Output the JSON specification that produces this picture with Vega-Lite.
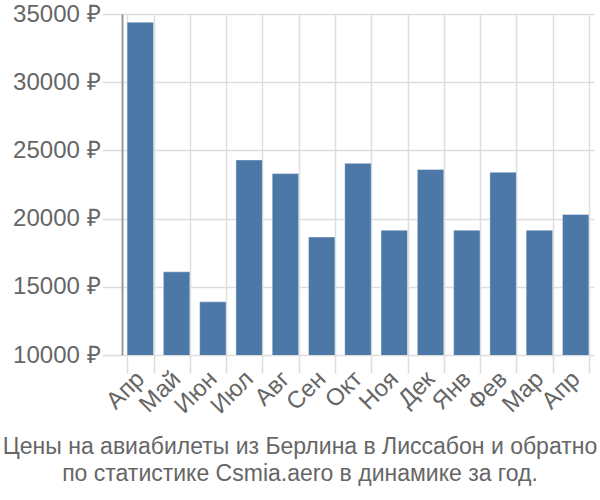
{
  "$schema": "https://vega.github.io/schema/vega-lite/v6.json",
  "width": 472,
  "height": 341,
  "autosize": "none",
  "padding": {"left": 122, "top": 14, "right": 6, "bottom": 145},
  "background": "white",
  "config": {
    "font": "Liberation Sans",
    "view": {"stroke": null}
  },
  "title": {
    "text": ["Цены на авиабилеты из Берлина в Лиссабон и обратно", "по статистике Csmia.aero в динамике за год."],
    "orient": "bottom",
    "anchor": "middle",
    "fontSize": 23,
    "fontWeight": "normal",
    "color": "#666666",
    "offset": 18,
    "lineHeight": 27,
    "dx": -58
  },
  "data": {
    "values": [
      {"key": "Апр (1)", "price": 34400},
      {"key": "Май", "price": 16100},
      {"key": "Июн", "price": 13900},
      {"key": "Июл", "price": 24300},
      {"key": "Авг", "price": 23300},
      {"key": "Сен", "price": 18650},
      {"key": "Окт", "price": 24050},
      {"key": "Ноя", "price": 19150},
      {"key": "Дек", "price": 23600},
      {"key": "Янв", "price": 19150},
      {"key": "Фев", "price": 23400},
      {"key": "Мар", "price": 19150},
      {"key": "Апр (2)", "price": 20300}
    ]
  },
  "mark": {"type": "bar", "clip": true, "color": "#4c78a8", "stroke": "#ffffff", "strokeOpacity": 0.4, "strokeWidth": 1},
  "encoding": {
    "x": {
      "field": "key",
      "type": "nominal",
      "sort": null,
      "scale": {"paddingInner": 0.27, "paddingOuter": 0.14},
      "axis": {
        "title": null,
        "labelAngle": -45,
        "labelAlign": "right",
        "labelBaseline": "middle",
        "labelFontSize": 24,
        "labelColor": "#666666",
        "labelExpr": "substring(datum.label, 0, 3)",
        "tickBand": "extent",
        "grid": true,
        "gridColor": "#dddddd",
        "gridWidth": 1.5,
        "tickColor": "#dddddd",
        "tickWidth": 1.5,
        "tickSize": 18,
        "domain": false,
        "labelPadding": 2
      }
    },
    "y": {
      "field": "price",
      "type": "quantitative",
      "scale": {"domain": [10000, 35000], "nice": false, "zero": false},
      "axis": {
        "title": null,
        "values": [10000, 15000, 20000, 25000, 30000, 35000],
        "labelExpr": "datum.value + ' ₽'",
        "labelFontSize": 24,
        "labelColor": "#666666",
        "gridColor": "#dddddd",
        "gridWidth": 1.5,
        "tickColor": "#dddddd",
        "tickWidth": 1.5,
        "tickSize": 20,
        "labelPadding": 2,
        "domainColor": "#999999",
        "domainWidth": 2
      }
    }
  }
}
